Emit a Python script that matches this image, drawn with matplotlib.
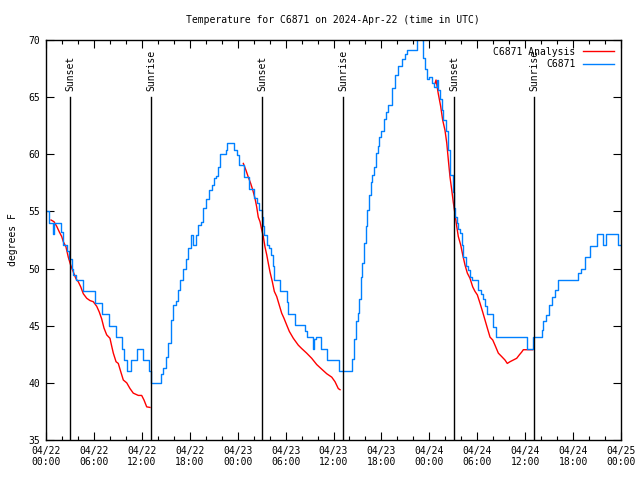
import matplotlib
matplotlib.use('Agg')
import matplotlib.pyplot as plt
from matplotlib.ticker import MultipleLocator

plt.rcParams['font.family'] = ['DejaVu Sans Mono']
plt.rcParams['font.size'] = 7

title = "Temperature for C6871 on 2024-Apr-22 (time in UTC)"
ylabel = "degrees F"

# Observations (hours since 2024-04-22 00:00 UTC, degrees F)
obs_hours = [0.0, 0.41, 0.91, 1.06, 1.84, 2.09, 2.59, 2.92, 3.22, 3.42, 3.76, 4.60, 6.14, 7.05,
             7.93, 8.73, 9.48, 9.77, 10.18, 10.61, 11.43, 12.18, 12.94, 13.15, 14.36, 14.69,
             15.03, 15.31, 15.61, 15.87, 16.28, 16.49, 16.78, 17.19, 17.53, 17.82, 18.12, 18.45,
             18.78, 19.07, 19.37, 19.70, 20.00, 20.45, 20.75, 21.04, 21.29, 21.58, 21.79, 22.50,
             22.70, 23.54, 23.88, 24.13, 24.83, 25.42, 26.05, 26.38, 26.71, 27.01, 27.21, 27.34,
             27.64, 27.96, 28.18, 28.39, 28.59, 29.30, 30.14, 30.34, 31.18, 32.43, 32.72, 33.39,
             33.56, 33.81, 34.40, 35.22, 36.73, 38.36, 38.57, 38.82, 39.03, 39.19, 39.41, 39.61,
             39.82, 40.03, 40.23, 40.45, 40.66, 40.86, 41.11, 41.32, 41.54, 41.74, 41.95, 42.36,
             42.58, 42.86, 43.29, 43.70, 44.11, 44.54, 44.95, 45.17, 46.42, 47.04, 47.25, 47.46,
             47.67, 48.00, 48.30, 48.59, 48.92, 49.12, 49.34, 49.55, 49.75, 50.09, 50.34, 50.59,
             50.93, 51.09, 51.21, 51.43, 51.63, 51.84, 52.05, 52.25, 52.59, 52.88, 53.09, 53.31,
             54.13, 54.43, 54.68, 54.97, 55.26, 56.01, 56.31, 60.19, 60.94, 62.07, 62.27, 62.61,
             63.02, 63.32, 63.74, 64.15, 66.65, 66.96, 67.49, 68.12, 68.96, 69.71, 70.12, 71.66,
             72.0]
obs_temp = [55.0, 54.0, 53.0, 54.0, 53.2, 52.1, 51.5, 50.8, 50.0, 49.4, 49.0, 48.0, 47.0, 46.0,
            45.0, 44.0, 43.0, 42.0, 41.0, 42.0, 43.0, 42.0, 41.0, 40.0, 40.8, 41.3,
            42.3, 43.5, 45.5, 46.8, 47.2, 48.1, 49.0, 50.0, 50.8, 51.8, 52.9, 52.1,
            52.9, 53.8, 54.1, 55.3, 56.1, 56.9, 57.3, 57.9, 58.1, 58.9, 60.0, 60.4,
            61.0, 60.4, 59.9, 59.1, 58.0, 57.0, 56.2, 55.7, 55.1, 54.5, 53.7, 52.9,
            52.1, 51.8, 51.2, 50.2, 49.0, 48.0, 47.1, 46.0, 45.1, 44.5, 44.0, 43.0,
            43.8, 44.0, 43.0, 42.0, 41.0, 42.1, 43.8, 45.4, 46.1, 47.3, 49.3, 50.5,
            52.2, 53.7, 55.1, 56.4, 57.6, 58.2, 58.9, 60.1, 60.7, 61.5, 62.0, 63.1,
            63.7, 64.3, 65.8, 66.9, 67.7, 68.3, 68.8, 69.1, 71.0, 70.0, 68.4, 67.5,
            66.6, 66.8, 66.2, 65.9, 66.5, 65.6, 64.8, 63.9, 63.0, 62.0, 60.4, 58.2,
            56.7, 55.3, 54.5, 54.0, 53.5, 53.1, 52.1, 51.0, 50.2, 49.9, 49.3, 49.0,
            48.1, 47.8, 47.3, 46.7, 46.0, 44.9, 44.0, 43.0, 44.0, 44.6, 45.4, 45.9,
            46.8, 47.5, 48.1, 49.0, 49.6, 50.0, 51.0, 52.0, 53.0, 52.1, 53.0, 52.1,
            52.1]

# Analysis segments
ana1_hours = [0.63, 1.00, 1.34, 1.67, 1.97, 2.17, 2.50, 2.79, 3.09, 3.42, 3.76, 4.04, 4.35, 4.67,
              5.10, 5.51, 5.92, 6.35, 6.67, 6.97, 7.26, 7.60, 8.01, 8.23, 8.43, 8.77, 9.05, 9.35,
              9.68, 10.11, 10.52, 10.93, 11.56, 11.98, 12.27, 12.61, 13.02]
ana1_temp = [54.25, 54.1, 53.7, 53.2, 52.8, 52.35, 51.9, 51.0, 50.3, 49.7, 49.1, 48.85, 48.4, 47.8,
             47.4, 47.2, 47.1, 46.7, 46.2, 45.6, 44.8, 44.2, 43.9, 43.2, 42.6, 41.85, 41.7, 41.0,
             40.25, 40.0, 39.5, 39.1, 38.9, 38.9, 38.5, 37.9, 37.85]
ana2_hours = [24.71, 25.04, 25.33, 25.63, 25.88, 26.17, 26.38, 26.58, 26.80, 27.01, 27.21, 27.42,
              27.64, 27.84, 28.05, 28.34, 28.59, 28.89, 29.21, 29.51, 29.80, 30.14, 30.47, 30.97,
              31.59, 32.02, 32.64, 33.27, 33.90, 34.52, 35.15, 35.78, 36.19, 36.60, 36.82]
ana2_temp = [59.2, 58.6, 58.0, 57.45, 56.9, 56.15, 55.4, 54.5, 54.1, 53.4, 52.8, 51.9,
             51.2, 50.45, 49.7, 48.85, 48.0, 47.55, 46.8, 46.1, 45.65, 45.06, 44.5, 43.9,
             43.3, 43.0, 42.6, 42.15, 41.6, 41.2, 40.8, 40.5, 40.1, 39.5, 39.4]
ana3_hours = [48.71, 48.84, 49.12, 49.42, 49.67, 49.96, 50.18, 50.38, 50.59, 50.80, 51.00, 51.21,
              51.43, 51.63, 51.93, 52.18, 52.47, 52.76, 53.09, 53.43, 53.72, 54.01, 54.35, 54.68,
              54.97, 55.26, 55.60, 55.94, 56.22, 56.64, 57.06, 57.47, 57.76, 58.10, 58.52, 58.94,
              59.27, 59.57, 59.77, 60.94]
ana3_temp = [66.2, 66.5, 65.3, 64.2, 63.0, 62.1, 61.0, 59.5, 58.0, 56.9, 55.8, 54.8,
             53.7, 52.8, 52.06, 51.2, 50.3, 49.6, 49.15, 48.4, 48.0, 47.7, 46.96, 46.2,
             45.5, 44.8, 44.0, 43.75, 43.3, 42.6, 42.3, 42.0, 41.7, 41.85, 42.0, 42.15,
             42.45, 42.7, 42.9, 42.9]

sun_hours = [3.0, 13.15, 27.05, 37.19, 51.09, 61.11]
sun_labels = ["Sunset", "Sunrise", "Sunset", "Sunrise", "Sunset", "Sunrise"]

xtick_hours = [0, 6, 12, 18, 24, 30, 36, 42, 48, 54, 60, 66, 72]
xtick_labels = ["04/22\n00:00", "04/22\n06:00", "04/22\n12:00", "04/22\n18:00",
                "04/23\n00:00", "04/23\n06:00", "04/23\n12:00", "04/23\n18:00",
                "04/24\n00:00", "04/24\n06:00", "04/24\n12:00", "04/24\n18:00",
                "04/25\n00:00"]
yticks = [35, 40, 45, 50, 55, 60, 65, 70]

fig = plt.figure(figsize=(6.4, 4.8), dpi=100)
ax = fig.add_axes([46 / 640, 40 / 480, 575 / 640, 400 / 480])

red = '#ff0000'
blue = '#0080ff'

ax.plot(ana1_hours, ana1_temp, color=red, lw=1.0, label='C6871 Analysis')
ax.plot(ana2_hours, ana2_temp, color=red, lw=1.0)
ax.plot(ana3_hours, ana3_temp, color=red, lw=1.0)
ax.plot(obs_hours, obs_temp, color=blue, lw=1.0, drawstyle='steps-post', label='C6871')

for h, lab in zip(sun_hours, sun_labels):
    ax.plot([h, h], [35, 65.0], color='black', lw=1.0)
    ax.text(h + 0.1, 65.5, lab, rotation=90, ha='center', va='bottom', fontsize=7)

ax.set_xlim(0, 72)
ax.set_ylim(35, 70)
ax.set_xticks(xtick_hours)
ax.set_xticklabels(xtick_labels)
ax.xaxis.set_minor_locator(MultipleLocator(2))
ax.set_yticks(yticks)
ax.tick_params(which='both', direction='in', top=True, right=True, labelsize=7, pad=4)
ax.tick_params(which='major', length=6, width=0.8)
ax.tick_params(which='minor', length=3, width=0.8)
for s in ax.spines.values():
    s.set_linewidth(1.0)

ax.set_ylabel(ylabel, fontsize=7, labelpad=8)
fig.text(333 / 640, 1 - 20 / 480, title, ha='center', va='center', fontsize=7)

leg = ax.legend(loc='upper right', frameon=False, markerfirst=False, fontsize=7,
                handlelength=3.2, handletextpad=0.8, borderaxespad=0.3, labelspacing=0.25)
for t in leg.get_texts():
    t.set_ha('right')

fig.savefig('out.png', dpi=100)
